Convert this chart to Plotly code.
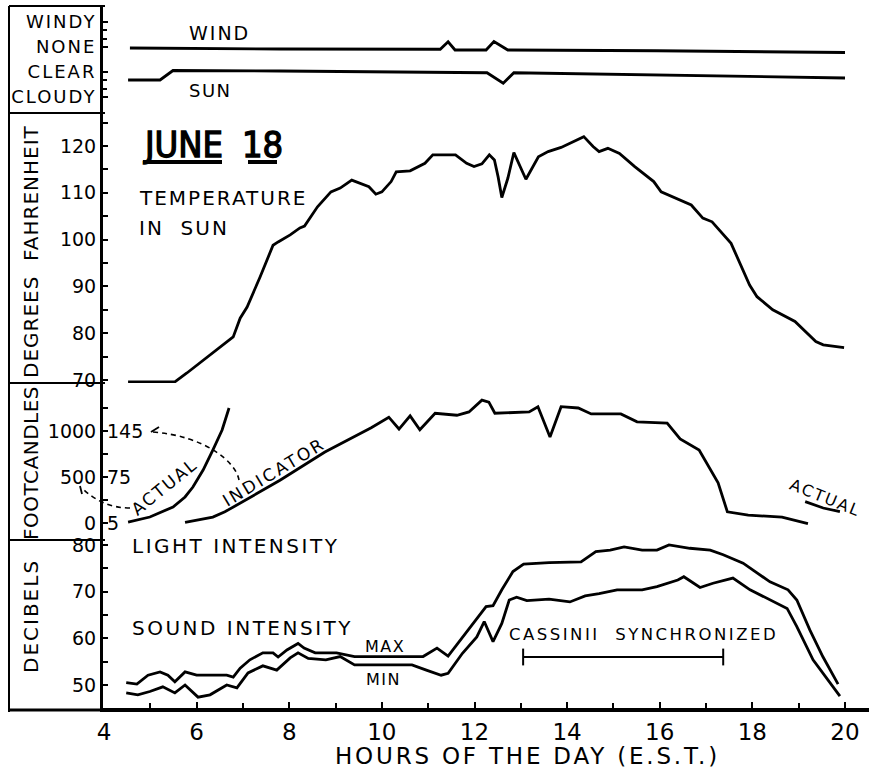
import plotly.graph_objects as go

# ---------------------------------------------------------------- data
hour_ticks = [4, 6, 8, 10, 12, 14, 16, 18, 20]

# weather strip: 0 = CLOUDY, 1 = CLEAR, 2 = NONE, 3 = WINDY
weather_labels = ["CLOUDY", "CLEAR", "NONE", "WINDY"]
weather_levels = [0, 1, 2, 3]
wind_hours = [4.56, 7.80, 11.26, 11.43, 11.58, 12.25, 12.42, 12.72, 15.94, 20.0]
wind_level = [1.96, 1.92, 1.91, 2.21, 1.88, 1.88, 2.22, 1.88, 1.85, 1.78]
sun_hours = [4.52, 5.21, 5.49, 7.80, 12.27, 12.62, 12.85, 15.94, 20.0]
sun_level = [0.68, 0.68, 1.06, 1.04, 0.97, 0.55, 0.97, 0.88, 0.76]

# temperature in sun (deg F)
temp_hours = [4.52, 5.53, 5.79, 6.01, 6.79, 6.94, 7.09, 7.37, 7.65, 7.76,
              8.02, 8.23, 8.33, 8.61, 8.90, 9.10, 9.35, 9.72, 9.87, 10.00,
              10.20, 10.31, 10.61, 10.93, 11.10, 11.59, 11.83, 11.99, 12.16, 12.32,
              12.43, 12.51, 12.59, 12.72, 12.85, 13.11, 13.38, 13.59, 13.87, 14.36,
              14.56, 14.69, 14.88, 15.13, 15.46, 15.87, 16.03, 16.68, 16.93, 17.13,
              17.54, 17.94, 18.10, 18.44, 18.92, 19.37, 19.53, 19.98]
temp_f = [69.6, 69.6, 71.5, 73.2, 79.2, 83.2, 85.6, 92.0, 98.8, 99.5,
          101.0, 102.5, 102.9, 107.0, 110.2, 111.0, 112.7, 111.3, 109.7, 110.2,
          112.4, 114.5, 114.7, 116.3, 118.1, 118.1, 116.3, 115.6, 116.2, 118.1,
          117.0, 113.4, 109.0, 113.1, 118.6, 112.9, 117.7, 118.8, 119.7, 122.0,
          119.9, 118.8, 119.5, 118.4, 115.6, 112.4, 110.2, 107.4, 104.6, 103.8,
          99.2, 90.3, 87.8, 85.0, 82.5, 78.2, 77.5, 76.9]

# light intensity: actual (footcandles) and indicator reading
footcandle_ticks = [0, 500, 1000]
indicator_ticks = [5, 75, 145]
actual_am_hours = [4.52, 4.99, 5.49, 5.75, 5.92, 6.14, 6.35, 6.55, 6.70]
actual_am_fc = [10, 65, 174, 283, 391, 576, 793, 1011, 1250]
actual_pm_hours = [19.14, 19.53, 19.89]
actual_pm_fc = [232, 163, 123]
indicator_hours = [5.75, 6.35, 6.61, 6.94, 7.80, 8.77, 9.77, 10.15, 10.37, 10.61,
                   10.82, 11.15, 11.62, 11.88, 12.16, 12.31, 12.44, 13.18, 13.37, 13.63,
                   13.87, 14.24, 14.52, 15.16, 15.51, 16.16, 16.44, 16.85, 17.00, 17.26,
                   17.46, 17.91, 18.64, 19.20]
indicator_units = [6, 14, 22, 35, 70, 113, 150, 166, 148, 168,
                   147, 172, 169, 174, 192, 189, 172, 174, 182, 136,
                   182, 180, 171, 171, 159, 157, 133, 116, 98, 66,
                   22, 17, 14, 4]

# sound intensity (decibels)
max_hours = [4.48, 4.71, 4.95, 5.21, 5.38, 5.53, 5.75, 6.00, 6.22, 6.65,
             6.79, 6.94, 7.15, 7.43, 7.65, 7.76, 7.95, 8.19, 8.32, 8.56,
             9.02, 9.41, 10.89, 11.19, 11.43, 11.74, 12.05, 12.25, 12.40, 12.59,
             12.83, 13.06, 13.61, 14.30, 14.62, 14.93, 15.23, 15.62, 15.94, 16.20,
             16.65, 17.09, 17.37, 17.80, 18.38, 18.77, 18.96, 19.24, 19.52, 19.85]
max_db = [50.5, 50.2, 52.1, 52.8, 52.1, 50.7, 52.8, 52.1, 52.1, 52.1,
          51.7, 53.6, 55.4, 56.9, 56.9, 56.0, 57.5, 58.9, 57.9, 56.9,
          56.9, 56.1, 56.1, 57.9, 56.2, 60.3, 64.3, 66.8, 67.0, 70.4,
          74.3, 75.9, 76.2, 76.4, 78.6, 78.9, 79.6, 78.9, 78.9, 80.0,
          79.3, 78.9, 77.9, 76.1, 72.1, 70.4, 68.2, 61.8, 56.1, 50.2]
min_hours = [4.48, 4.73, 4.99, 5.27, 5.53, 5.75, 6.03, 6.29, 6.65, 6.87,
             7.11, 7.43, 7.73, 8.02, 8.19, 8.41, 8.79, 9.10, 9.41, 10.65,
             10.96, 11.28, 11.43, 11.74, 12.05, 12.21, 12.40, 12.59, 12.75, 12.91,
             13.13, 13.61, 14.06, 14.39, 14.69, 15.08, 15.62, 15.94, 16.39, 16.52,
             16.87, 17.15, 17.58, 17.95, 18.75, 18.96, 19.31, 19.89]
min_db = [48.3, 47.9, 48.6, 49.6, 48.3, 50.0, 47.4, 47.9, 50.0, 49.4,
          52.6, 54.1, 53.2, 55.8, 56.9, 55.7, 55.4, 56.1, 54.3, 54.3,
          53.2, 52.1, 52.5, 56.8, 60.3, 63.6, 59.3, 63.2, 68.2, 68.8,
          68.1, 68.4, 67.8, 69.1, 69.6, 70.4, 70.4, 71.1, 72.5, 73.2,
          70.9, 71.8, 72.9, 70.4, 66.4, 62.5, 55.4, 47.6]
cassini_hours = [13.05, 17.37]
cassini_db = [56, 56]

# ---------------------------------------------------------------- geometry
W, H = 869, 770
FONT = "DejaVu Sans, Verdana, sans-serif"
NARROW = "DejaVu Sans Condensed, Liberation Sans Narrow, sans-serif"
INK = "black"
LW = 2.8


def px(x):
    return x / W


def py(y):
    return 1 - y / H


def span(val, at_px, px_per_unit, top_px, bottom_px):
    return [val - (bottom_px - at_px) / px_per_unit,
            val + (at_px - top_px) / px_per_unit]


X_LEFT, X_PER_HOUR = 103, 46.3125
x_range = [4 - 1 / X_PER_HOUR, 4 + (W - X_LEFT - 1) / X_PER_HOUR]

weather_range = span(0, 97, 25, 6, 113)
temp_range = span(70, 380, 4.68, 113, 383)
light_range = span(0, 523, 0.092, 383, 540)
indicator_range = [5 + 0.14 * v for v in light_range]
sound_range = span(50, 685, 4.667, 540, 708)


def tick_font(size=19):
    return dict(family=FONT, size=size, color=INK)


def yaxis_base(domain, rng, **kw):
    d = dict(domain=domain, range=rng, anchor="x", showline=True, linewidth=3,
             linecolor=INK, ticks="inside", ticklen=5, tickwidth=2, tickcolor=INK,
             showgrid=False, zeroline=False, tickfont=tick_font(), fixedrange=True,
             automargin=False)
    d.update(kw)
    return d


fig = go.Figure()


def curve(x, y, axis, width=LW):
    fig.add_trace(go.Scatter(x=x, y=y, yaxis=axis, mode="lines",
                             line=dict(color=INK, width=width, shape="linear"),
                             hoverinfo="skip", showlegend=False))


curve(wind_hours, wind_level, "y5")
curve(sun_hours, sun_level, "y5")
curve(temp_hours, temp_f, "y4")
curve(actual_am_hours, actual_am_fc, "y2")
curve(actual_pm_hours, actual_pm_fc, "y2")
curve(indicator_hours, indicator_units, "y3")
curve(max_hours, max_db, "y")
curve(min_hours, min_db, "y")
fig.add_trace(go.Scatter(x=cassini_hours, y=cassini_db, yaxis="y", mode="lines+markers",
                         line=dict(color=INK, width=1.8),
                         marker=dict(symbol="line-ns-open", size=12,
                                     line=dict(color=INK, width=2)),
                         hoverinfo="skip", showlegend=False))


def spaced(text, ls):
    return f"<span style='letter-spacing:{ls}px'>{text}</span>"


def heavy(text, stroke):
    return f"<span style='stroke:black;stroke-width:{stroke}px'>{text}</span>"


def label(text, x, y, size=19, angle=0, xanchor="center", ls=0, family=FONT):
    if ls:
        text = spaced(text, ls)
    return dict(text=text, x=px(x), y=py(y), xref="paper", yref="paper",
                showarrow=False, xanchor=xanchor, yanchor="middle", textangle=angle,
                font=dict(family=family, size=size, color=INK))


annotations = [
    label("WIND", 219, 33, 19, ls=2),
    label("SUN", 210, 91, 18, ls=1.5),
    label(heavy("JUNE", 1.3), 182.5, 144, 36, family=NARROW),
    label(heavy("18", 1.3), 262.5, 144, 36, family=NARROW),
    label("TEMPERATURE", 137, 198, 20, xanchor="left", ls=2),
    label("IN  SUN", 137, 228, 20, xanchor="left", ls=2),
    label("LIGHT INTENSITY", 130, 546, 20, xanchor="left", ls=2.5),
    label("SOUND INTENSITY", 130, 628, 20, xanchor="left", ls=2.5),
    label("MAX", 385, 646, 16, ls=1.5),
    label("MIN", 383, 679, 16, ls=1.5),
    label("CASSINII  SYNCHRONIZED", 643, 634, 16.5, ls=2.5),
    label("ACTUAL", 164, 487, 17, angle=-39, ls=2),
    label("INDICATOR", 274, 472, 17, angle=-31, ls=2.5),
    label("ACTUAL", 825, 497, 16, angle=22, ls=2),
    label("DEGREES  FAHRENHEIT", 31, 252, 20, angle=-90, ls=1),
    label("FOOTCANDLES", 31, 463, 20, angle=-90, ls=0.5),
    label("DECIBELS", 31, 616, 20, angle=-90, ls=2),
    label("HOURS OF THE DAY (E.S.T.)", 527, 756, 23, ls=2.8),
]


def seg(p0, p1, width=2, dash=None):
    return dict(type="line", xref="paper", yref="paper",
                x0=px(p0[0]), y0=py(p0[1]), x1=px(p1[0]), y1=py(p1[1]),
                line=dict(color=INK, width=width, dash=dash))


def path(points_cmd, width=1.6, dash=None):
    parts = []
    for cmd, pts in points_cmd:
        coords = " ".join(f"{px(a):.5f},{py(b):.5f}" for a, b in pts)
        parts.append(f"{cmd} {coords}")
    return dict(type="path", xref="paper", yref="paper", path=" ".join(parts),
                line=dict(color=INK, width=width, dash=dash))


shapes = [
    # frame around the scale labels
    seg((9, 6), (9, 712)),
    seg((9, 6), (105, 6)),
    seg((9, 113), (105, 113)),
    seg((9, 383), (105, 383)),
    seg((9, 540), (105, 540)),
    seg((9, 710), (105, 710), width=3),
    # underlines of the date
    seg((143, 162), (222, 162), width=4),
    seg((248, 162), (277, 162), width=4),
    # dashed pointers from the light curves to their scales
    path([("M", [(239, 480)]), ("C", [(236, 462), (205, 436), (153, 432)])],
         dash="5px,4px"),
    path([("M", [(130, 508)]), ("C", [(110, 508), (94, 500), (82, 488)])],
         dash="5px,4px"),
    path([("M", [(159, 427)]), ("L", [(151, 432), (159, 436)])], width=1.8),
    path([("M", [(82, 494)]), ("L", [(80, 486), (88, 487)])], width=1.8),
]

fig.update_layout(
    template="none",
    width=W, height=H,
    margin=dict(l=0, r=0, t=0, b=0, pad=0, autoexpand=False),
    paper_bgcolor="white", plot_bgcolor="white",
    showlegend=False, hovermode=False,
    xaxis=dict(domain=[px(X_LEFT), 1], range=x_range, anchor="y",
               showline=True, linewidth=4, linecolor=INK,
               tickmode="array", tickvals=hour_ticks,
               ticks="inside", ticklen=6, tickwidth=2, tickcolor=INK,
               minor=dict(dtick=1, ticks="inside", ticklen=5, tickwidth=2, tickcolor=INK),
               showgrid=False, zeroline=False, tickfont=tick_font(23), fixedrange=True,
               automargin=False),
    yaxis=yaxis_base([py(708), py(540)], sound_range,
                     tickmode="array", tickvals=[50, 60, 70, 80],
                     minor=dict(tickvals=[45, 55, 65, 75], ticks="inside", ticklen=5,
                                tickwidth=2, tickcolor=INK)),
    yaxis2=yaxis_base([py(540), py(383)], light_range,
                      tickmode="array", tickvals=footcandle_ticks,
                      minor=dict(tickvals=[250, 750, 1250], ticks="inside", ticklen=5,
                                 tickwidth=2, tickcolor=INK)),
    # indicator scale, printed just right of the footcandle axis
    yaxis3=dict(overlaying="y2", anchor="free", position=px(106), side="right",
                range=indicator_range, tickmode="array", tickvals=indicator_ticks,
                ticks="", showline=False, showgrid=False, zeroline=False,
                tickfont=tick_font(), fixedrange=True, automargin=False),
    yaxis4=yaxis_base([py(383), py(113)], temp_range,
                      tickmode="array", tickvals=[70, 80, 90, 100, 110, 120],
                      minor=dict(tickvals=[75, 85, 95, 105, 115, 125], ticks="inside",
                                 ticklen=5, tickwidth=2, tickcolor=INK)),
    yaxis5=yaxis_base([py(113), py(6)], weather_range,
                      tickmode="array", tickvals=weather_levels,
                      ticktext=[spaced(t, 2) for t in weather_labels],
                      tickfont=tick_font(18),
                      minor=dict(tickvals=[1 / 3, 2 / 3, 7 / 3, 8 / 3], ticks="inside",
                                 ticklen=4, tickwidth=2, tickcolor=INK)),
    annotations=annotations,
    shapes=shapes,
)

fig.write_html("out.html", post_script="document.body.style.margin='0';")
